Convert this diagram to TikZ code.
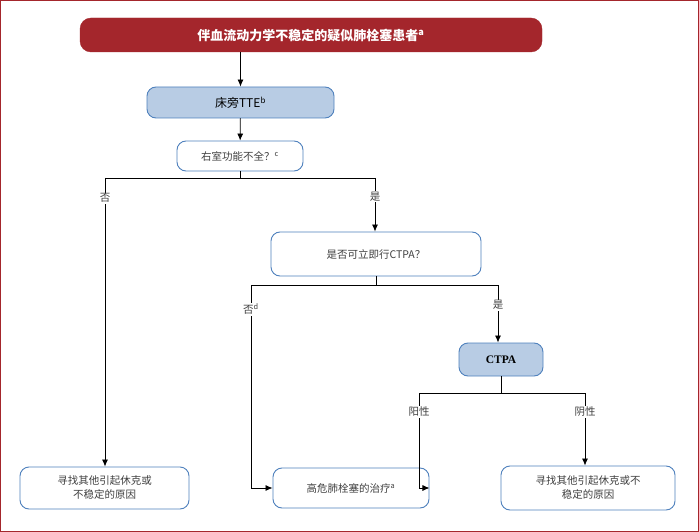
\documentclass[tikz,border=0pt]{standalone}
\usepackage{fontspec}
\setmainfont{Liberation Serif}
\newfontfamily\cjk{Noto Sans CJK SC}
\usetikzlibrary{arrows.meta}
\definecolor{dred}{HTML}{A4262C}
\definecolor{bbord}{HTML}{4F81BD}
\definecolor{bfill}{HTML}{B8CCE4}
\definecolor{txt}{HTML}{404040}
\begin{document}
\begin{tikzpicture}[x=1pt,y=-1pt,
  box/.style={draw=bbord,line width=0.9pt,rounded corners=9pt,fill=white,text=txt,font=\cjk\fontsize{10.5}{14}\selectfont,align=center,inner sep=0pt},
  blue/.style={box,fill=bfill,text=black},
  ln/.style={line width=0.8pt,black},
  arr/.style={ln,-{Latex[length=7pt,width=6pt]}},
  lab/.style={text=txt,font=\cjk\fontsize{10.5}{12}\selectfont,fill=white,inner sep=1pt}]
\draw[dred,line width=1pt,fill=white] (0.5,0.5) rectangle (698.5,531.5);
\node[draw=dred,fill=dred,rounded corners=11pt,minimum width=462pt,minimum height=34pt,text=white,font=\cjk\bfseries\fontsize{13}{14}\selectfont] (top) at (311,35) {伴血流动力学不稳定的疑似肺栓塞患者\textsuperscript{a}};
\node[blue,minimum width=187pt,minimum height=31pt,font=\cjk\fontsize{12}{13}\selectfont] (tte) at (240.5,102.5) {床旁TTE\textsuperscript{b}};
\node[box,minimum width=126pt,minimum height=30pt] (rv) at (240,156) {右室功能不全？\textsuperscript{c}};
\node[box,minimum width=210pt,minimum height=44pt] (ct) at (376,254) {是否可立即行CTPA？};
\node[blue,minimum width=84pt,minimum height=33pt,font=\bfseries\fontsize{11.5}{13}\selectfont] (ctpa) at (501,359.5) {CTPA};
\node[box,minimum width=169pt,minimum height=42pt] (l) at (104.5,488) {寻找其他引起休克或\\不稳定的原因};
\node[box,minimum width=156pt,minimum height=40pt] (m) at (351,488) {高危肺栓塞的治疗\textsuperscript{a}};
\node[box,minimum width=174pt,minimum height=44pt] (r) at (588,488) {寻找其他引起休克或不\\稳定的原因};
\coordinate (j1) at (240,178); \coordinate (j1l) at (105,178); \coordinate (j1r) at (375,178);
\coordinate (j2) at (376,285); \coordinate (j2l) at (251,285); \coordinate (j2r) at (498,285);
\coordinate (j3) at (501,393); \coordinate (j3l) at (419,393); \coordinate (j3r) at (585,393);
\draw[arr] (top.south -| tte) -- (tte);
\draw[arr] (tte) -- (rv);
\draw[ln] (rv) -- (j1); \draw[ln] (j1l) -- (j1r);
\draw[arr] (j1l) -- (j1l|-l.north) node[lab,pos=0.07] {否};
\draw[arr] (j1r) -- (j1r|-ct.north) node[lab,pos=0.35] {是};
\draw[ln] (ct) -- (j2); \draw[ln] (j2l) -- (j2r);
\draw[arr] (j2l) |- (m.west) node[lab,pos=0.06] {否\textsuperscript{d}};
\draw[arr] (j2r) -- (j2r|-ctpa.north) node[lab,pos=0.35] {是};
\draw[ln] (ctpa) -- (j3); \draw[ln] (j3l) -- (j3r);
\draw[arr] (j3l) |- (m.east) node[lab,pos=0.1] {阳性};
\draw[arr] (j3r) -- (j3r|-r.north) node[lab,pos=0.26] {阴性};
\end{tikzpicture}
\end{document}
